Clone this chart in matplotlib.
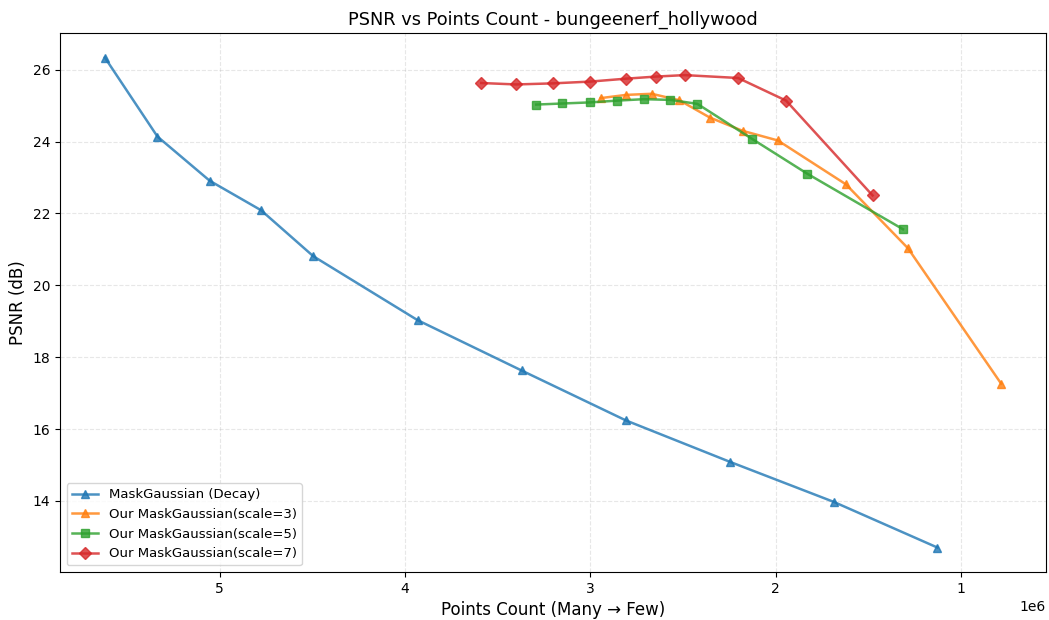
import matplotlib
matplotlib.use("Agg")
import matplotlib.pyplot as plt

# Points count (x1e6) and PSNR (dB)
decay_pts = [5.62, 5.336, 5.054, 4.777, 4.495, 3.932, 3.371, 2.808, 2.248, 1.685, 1.126]
decay_psnr = [26.34, 24.14, 22.91, 22.09, 20.81, 19.03, 17.63, 16.24, 15.09, 13.97, 12.70]

s3_pts = [2.943, 2.805, 2.668, 2.519, 2.355, 2.178, 1.987, 1.620, 1.285, 0.782]
s3_psnr = [25.21, 25.30, 25.33, 25.15, 24.67, 24.30, 24.03, 22.81, 21.03, 17.26]

s5_pts = [3.292, 3.150, 3.003, 2.853, 2.711, 2.567, 2.422, 2.125, 1.830, 1.312]
s5_psnr = [25.03, 25.06, 25.09, 25.14, 25.18, 25.16, 25.05, 24.07, 23.11, 21.56]

s7_pts = [3.588, 3.400, 3.202, 2.999, 2.809, 2.643, 2.490, 2.202, 1.943, 1.476]
s7_psnr = [25.63, 25.59, 25.62, 25.67, 25.75, 25.81, 25.85, 25.77, 25.14, 22.50]

series = [
    ("MaskGaussian (Decay)", decay_pts, decay_psnr, "^", "tab:blue"),
    ("Our MaskGaussian(scale=3)", s3_pts, s3_psnr, "^", "tab:orange"),
    ("Our MaskGaussian(scale=5)", s5_pts, s5_psnr, "s", "tab:green"),
    ("Our MaskGaussian(scale=7)", s7_pts, s7_psnr, "D", "tab:red"),
]

fig = plt.figure(figsize=(10.49, 6.2), dpi=100)
ax = fig.add_axes([60 / 1049, 1 - 572 / 620, 986 / 1049, 539 / 620])

for label, xs, ys, marker, color in series:
    ax.plot([x * 1e6 for x in xs], ys, marker=marker, color=color,
            linewidth=1.8, markersize=6, alpha=0.8, label=label)

ax.invert_xaxis()
ax.set_ylim(bottom=12.02)
ax.set_title("PSNR vs Points Count - bungeenerf_hollywood", fontsize=12.8)
ax.set_xlabel("Points Count (Many \u2192 Few)", fontsize=12)
ax.set_ylabel("PSNR (dB)", fontsize=12)
ax.grid(True, linestyle="--", alpha=0.3)
ax.legend(loc="lower left", fontsize=9.5)

fig.savefig("out.png", dpi=100)
